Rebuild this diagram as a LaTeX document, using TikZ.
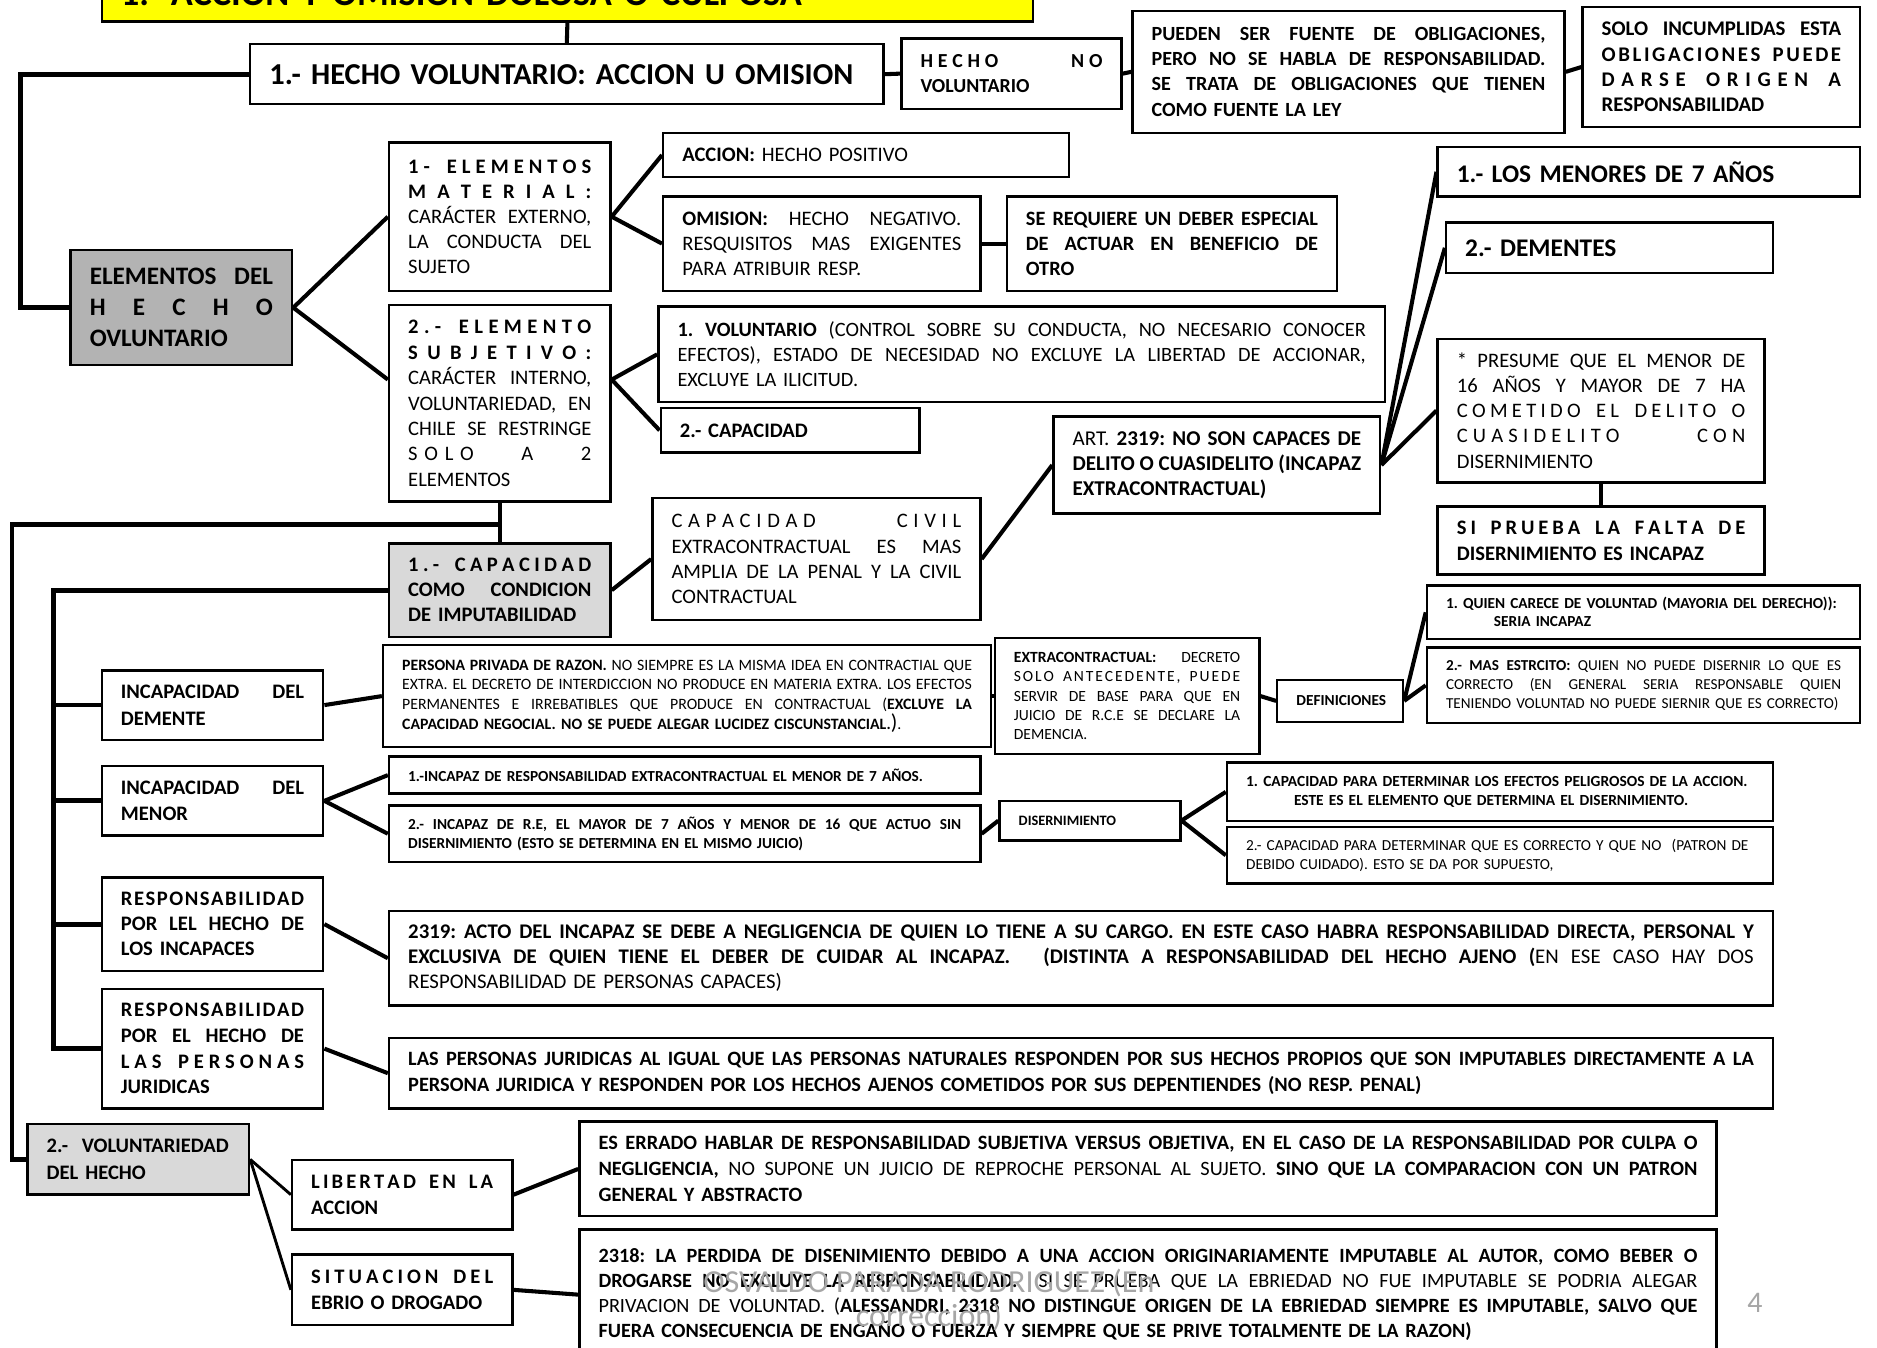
\documentclass[tikz,border=0pt]{standalone}
\usepackage{fontspec}
\setmainfont{Carlito}
\usetikzlibrary{calc}
\frenchspacing

\definecolor{titleyellow}{HTML}{FFFF00}
\definecolor{darkfill}{HTML}{B3B3B3}
\definecolor{lightfill}{HTML}{D9D9D9}
\definecolor{markgray}{HTML}{A6A6A6}

\newcommand\fsz[2]{\fontsize{#1}{#2}\selectfont}
\newcommand\justline[1]{{\spaceskip=0pt\xspaceskip=0pt\makebox[\linewidth][s]{#1}}}
\makeatletter
\newcommand\spreadln[1]{\leavevmode\hbox to\linewidth{\spr@a#1\spr@end}}
\def\spr@end{\spr@end}
\def\spr@a#1{#1\spr@b}
\def\spr@b#1{\ifx\spr@end#1\else\hfil#1\expandafter\spr@b\fi}
\makeatother

\begin{document}
\begin{tikzpicture}[x=0.5pt, y=-0.5pt,
  cell/.style n args={4}{draw, line width=1pt, anchor=north west, at={(#1,#2)},
    minimum width={(#3-(#1))*0.5pt}, minimum height={(#4-(#2))*0.5pt},
    text width={(#3-(#1)-32)*0.5pt}, inner xsep=8pt, inner ysep=0pt, align=left},
  link/.style={line width=1.7pt},
  thinlink/.style={line width=1.2pt},
  spine/.style={line width=2pt}]
\useasboundingbox (0,0) rectangle (1568,1126);
\clip (0,0) rectangle (1568,1126);

% top row
\node[cell={84}{-29}{862}{17}, fill=titleyellow, font=\bfseries\fsz{15.2}{18}] (title) {1.- ACCION Y OMISION DOLOSA O CULPOSA};
\node[cell={208}{36}{737}{86}, font=\bfseries\fsz{12.7}{14}] (hv) {1.- HECHO VOLUNTARIO: ACCION U OMISION};
\node[cell={752}{31}{936}{90}, font=\bfseries\fsz{8.3}{10.5}] (hnv) {\spreadln{HECHO~~~~~~NO}\\VOLUNTARIO};
\node[cell={945}{8}{1306}{110}, font=\bfseries\fsz{8.4}{10.5}] (pueden) {\justline{PUEDEN SER FUENTE DE OBLIGACIONES,}\\\justline{PERO NO SE HABLA DE RESPONSABILIDAD.}\\\justline{SE TRATA DE OBLIGACIONES QUE TIENEN}\\COMO FUENTE LA LEY};
\node[cell={1321}{5}{1553}{105}, font=\bfseries\fsz{8.7}{10.6}] (solo) {\justline{SOLO INCUMPLIDAS ESTA}\\\spreadln{OBLIGACIONES~PUEDE}\\\spreadln{DARSE~ORIGEN~A}\\RESPONSABILIDAD};

% elementos del hecho
\node[cell={58}{208}{243}{304}, fill=darkfill, font=\bfseries\fsz{10.5}{13}] (elem) {\justline{ELEMENTOS DEL}\\\spreadln{HECHO}\\OVLUNTARIO};
\node[cell={324}{118}{509}{242}, font=\fsz{8.6}{10.5}] (mat) {\textbf{\spreadln{1-~ELEMENTOS}}\\\textbf{\spreadln{MATERIAL:}}\\\justline{CARÁCTER EXTERNO,}\\\justline{LA CONDUCTA DEL}\\SUJETO};
\node[cell={324}{254}{509}{418}, font=\fsz{8.6}{10.6}] (subj) {\textbf{\spreadln{2.-~ELEMENTO}}\\\textbf{\spreadln{SUBJETIVO:}}\\\justline{CARÁCTER INTERNO,}\\\justline{VOLUNTARIEDAD, EN}\\\justline{CHILE SE RESTRINGE}\\\spreadln{SOLO~~~A~~~2}\\ELEMENTOS};
\node[cell={553}{110}{892}{147}, font=\fsz{8.6}{10.5}] (accion) {\textbf{ACCION:} HECHO POSITIVO};
\node[cell={553}{163}{818}{242}, font=\fsz{8.6}{10.5}] (omision) {\justline{\textbf{OMISION:} HECHO NEGATIVO.}\\\justline{RESQUISITOS MAS EXIGENTES}\\PARA ATRIBUIR RESP.};
\node[cell={840}{163}{1116}{242}, font=\bfseries\fsz{8.5}{10.5}] (deber) {\justline{SE REQUIERE UN DEBER ESPECIAL}\\\justline{DE ACTUAR EN BENEFICIO DE}\\OTRO};
\node[cell={549}{255}{1156}{335}, font=\fsz{8.5}{10.5}] (volunt) {\justline{\textbf{1. VOLUNTARIO} (CONTROL SOBRE SU CONDUCTA, NO NECESARIO CONOCER}\\\justline{EFECTOS), ESTADO DE NECESIDAD NO EXCLUYE LA LIBERTAD DE ACCIONAR,}\\EXCLUYE LA ILICITUD.};
\node[cell={551}{340}{767}{377}, font=\bfseries\fsz{8.6}{10.5}] (capac) {2.- CAPACIDAD};

% capacidad
\node[cell={879}{347}{1152}{428}, font=\fsz{8.8}{10.5}] (art) {\justline{ART. \textbf{2319: NO SON CAPACES DE}}\\\justline{\textbf{DELITO O CUASIDELITO (INCAPAZ}}\\\textbf{EXTRACONTRACTUAL)}};
\node[cell={1200}{122}{1553}{163}, font=\bfseries\fsz{10.6}{13}] (menores) {1.- LOS MENORES DE 7 AÑOS};
\node[cell={1207}{185}{1480}{227}, font=\bfseries\fsz{10.6}{13}] (dementes) {2.- DEMENTES};
\node[cell={1200}{282}{1473}{402}, font=\fsz{8.6}{10.5}] (presume) {\justline{* PRESUME QUE EL MENOR DE}\\\justline{16 AÑOS Y MAYOR DE 7 HA}\\\spreadln{COMETIDO~EL~DELITO~O}\\\spreadln{CUASIDELITO~~~~~~CON}\\DISERNIMIENTO};
\node[cell={1200}{422}{1473}{479}, font=\bfseries\fsz{8.6}{11}] (siprueba) {\spreadln{SI~PRUEBA~LA~FALTA~DE}\\DISERNIMIENTO ES INCAPAZ};
\node[cell={544}{415}{818}{517}, font=\fsz{8.6}{10.5}] (civil) {\spreadln{CAPACIDAD~~~~~~CIVIL}\\\justline{EXTRACONTRACTUAL ES MAS}\\\justline{AMPLIA DE LA PENAL Y LA CIVIL}\\CONTRACTUAL};
\node[cell={324}{453}{509}{531}, fill=lightfill, font=\bfseries\fsz{8.6}{10.5}] (imput) {\spreadln{1.-~CAPACIDAD}\\\justline{COMO CONDICION}\\DE IMPUTABILIDAD};
\node[cell={22}{938}{207}{997}, fill=lightfill, font=\bfseries\fsz{8.6}{11}] (volhecho) {2.-\ \ VOLUNTARIEDAD\\DEL HECHO};

% incapacidades
\node[cell={84}{559}{269}{617}, font=\bfseries\fsz{8.6}{11}] (dem) {\justline{INCAPACIDAD DEL}\\DEMENTE};
\node[cell={84}{639}{269}{697}, font=\bfseries\fsz{8.6}{11}] (menor) {\justline{INCAPACIDAD DEL}\\MENOR};
\node[cell={84}{732}{269}{810}, font=\bfseries\fsz{8.6}{10.5}] (incap) {\spreadln{RESPONSABILIDAD}\\\justline{POR LEL HECHO DE}\\LOS INCAPACES};
\node[cell={84}{825}{269}{925}, font=\bfseries\fsz{8.6}{10.7}] (jur) {\spreadln{RESPONSABILIDAD}\\\justline{POR EL HECHO DE}\\\spreadln{LAS~PERSONAS}\\JURIDICAS};
\node[cell={319}{538}{827}{623}, font=\fsz{6.6}{8.2}] (privada) {\justline{\textbf{PERSONA PRIVADA DE RAZON.} NO SIEMPRE ES LA MISMA IDEA EN CONTRACTIAL QUE}\\\justline{EXTRA. EL DECRETO DE INTERDICCION NO PRODUCE EN MATERIA EXTRA. LOS EFECTOS}\\\justline{PERMANENTES E IRREBATIBLES QUE PRODUCE EN CONTRACTUAL (\textbf{EXCLUYE LA}}\\\textbf{CAPACIDAD NEGOCIAL. NO SE PUEDE ALEGAR LUCIDEZ CISCUNSTANCIAL.}{\fsz{9}{8.2})}.};
\node[cell={830}{532}{1051}{629}, font=\fsz{6.5}{8}] (extra) {\justline{\textbf{EXTRACONTRACTUAL:} DECRETO}\\\spreadln{SOLO~ANTECEDENTE,~PUEDE}\\\justline{SERVIR DE BASE PARA QUE EN}\\\justline{JUICIO DE R.C.E SE DECLARE LA}\\DEMENCIA.};
\node[cell={1066}{567}{1171}{602}, font=\bfseries\fsz{6.4}{8}] (defin) {DEFINICIONES};
\node[cell={1191}{488}{1553}{533}, font=\bfseries\fsz{6.4}{7.5}] (quien) {1. QUIEN CARECE DE VOLUNTAD (MAYORIA DEL DERECHO)):\\\hspace*{20pt}SERIA INCAPAZ};
\node[cell={1191}{540}{1553}{603}, font=\fsz{6.35}{8}] (estricto) {\justline{\textbf{2.- MAS ESTRCITO:} QUIEN NO PUEDE DISERNIR LO QUE ES}\\\justline{CORRECTO (EN GENERAL SERIA RESPONSABLE QUIEN}\\TENIENDO VOLUNTAD NO PUEDE SIERNIR QUE ES CORRECTO)};
\node[cell={324}{631}{818}{662}, font=\bfseries\fsz{6.4}{8}] (menor7) {1.-INCAPAZ DE RESPONSABILIDAD EXTRACONTRACTUAL EL MENOR DE 7 AÑOS.};
\node[cell={324}{672}{818}{719}, font=\bfseries\fsz{6.4}{8}] (mayor7) {\justline{2.- INCAPAZ DE R.E, EL MAYOR DE 7 AÑOS Y MENOR DE 16 QUE ACTUO SIN}\\DISERNIMIENTO (ESTO SE DETERMINA EN EL MISMO JUICIO)};
\node[cell={834}{668}{985}{701}, font=\bfseries\fsz{6}{8}] (disern) {DISERNIMIENTO};
\node[cell={1024}{636}{1480}{685}, font=\bfseries\fsz{6.45}{8}] (peligro) {1. CAPACIDAD PARA DETERMINAR LOS EFECTOS PELIGROSOS DE LA ACCION.\\\hspace*{20pt}ESTE ES EL ELEMENTO QUE DETERMINA EL DISERNIMIENTO.};
\node[cell={1024}{690}{1480}{737}, font=\fsz{6.4}{8}] (correcto) {2.- CAPACIDAD PARA DETERMINAR QUE ES CORRECTO Y QUE NO\ \ (PATRON DE\\DEBIDO CUIDADO). ESTO SE DA POR SUPUESTO,};
\node[cell={324}{760}{1480}{839}, font=\bfseries\fsz{8.7}{10.5}] (actoinc) {\justline{2319: ACTO DEL INCAPAZ SE DEBE A NEGLIGENCIA DE QUIEN LO TIENE A SU CARGO. EN ESTE CASO HABRA RESPONSABILIDAD DIRECTA, PERSONAL Y}\\\justline{EXCLUSIVA DE QUIEN TIENE EL DEBER DE CUIDAR AL INCAPAZ.\quad\ (DISTINTA A RESPONSABILIDAD DEL HECHO AJENO (\mdseries EN ESE CASO HAY DOS}\\\mdseries RESPONSABILIDAD DE PERSONAS CAPACES)};
\node[cell={324}{866}{1480}{925}, font=\bfseries\fsz{8.5}{11}] (pjur) {\justline{LAS PERSONAS JURIDICAS AL IGUAL QUE LAS PERSONAS NATURALES RESPONDEN POR SUS HECHOS PROPIOS QUE SON IMPUTABLES DIRECTAMENTE A LA}\\PERSONA JURIDICA Y RESPONDEN POR LOS HECHOS AJENOS COMETIDOS POR SUS DEPENTIENDES (NO RESP. PENAL)};

% voluntariedad
\node[cell={243}{968}{427}{1026}, font=\bfseries\fsz{8.6}{11}] (libertad) {\spreadln{LIBERTAD~EN~LA}\\ACCION};
\node[cell={243}{1047}{427}{1106}, font=\bfseries\fsz{8.6}{11}] (ebrio) {\spreadln{SITUACION~DEL}\\EBRIO O DROGADO};
\node[cell={483}{936}{1433}{1015}, font=\fsz{8.5}{10.7}] (errado) {\justline{\textbf{ES ERRADO HABLAR DE RESPONSABILIDAD SUBJETIVA VERSUS OBJETIVA, EN EL CASO DE LA RESPONSABILIDAD POR CULPA O}}\\\justline{\textbf{NEGLIGENCIA,} NO SUPONE UN JUICIO DE REPROCHE PERSONAL AL SUJETO. \textbf{SINO QUE LA COMPARACION CON UN PATRON}}\\\textbf{GENERAL Y ABSTRACTO}};
\node[cell={483}{1026}{1433}{1135}, font=\fsz{8.45}{10.5}] (ebriedad) {\justline{\textbf{2318: LA PERDIDA DE DISENIMIENTO DEBIDO A UNA ACCION ORIGINARIAMENTE IMPUTABLE AL AUTOR, COMO BEBER O}}\\\justline{\textbf{DROGARSE NO EXCLUYE LA RESPONSABILIDAD.}\ \ SI SE PRUEBA QUE LA EBRIEDAD NO FUE IMPUTABLE SE PODRIA ALEGAR}\\\justline{PRIVACION DE VOLUNTAD. (\textbf{ALESSANDRI, 2318 NO DISTINGUE ORIGEN DE LA EBRIEDAD SIEMPRE ES IMPUTABLE, SALVO QUE}}\\\textbf{FUERA CONSECUENCIA DE ENGAÑO O FUERZA Y SIEMPRE QUE SE PRIVE TOTALMENTE DE LA RAZON)}};

% connectors
\draw[link] (title.south) -- (hv.north);
\draw[spine] (hv.west) -- ++(-191,0) |- (elem.west);
\draw[link] (hv.east) -- (hnv.west);
\draw[link] (hnv.east) -- (pueden.west);
\draw[link] (pueden.east) -- (solo.west);
\draw[link] (elem.east) -- (mat.west);
\draw[link] (elem.east) -- ($(subj.north west)!.38!(subj.south west)$);
\draw[link] (mat.east) -- (accion.west);
\draw[link] (mat.east) -- (omision.west);
\draw[link] (omision.east) -- (deber.west);
\coordinate (subjout) at ($(subj.north east)!.38!(subj.south east)$);
\draw[link] (subjout) -- (volunt.west);
\draw[link] (subjout) -- (capac.west);
\foreach \n in {menores,dementes,presume}
  \draw[link] (art.east) -- (\n.west);
\draw[link] (presume.south) -- (siprueba.north);
\draw[link] (civil.east) -- (art.west);
\draw[link] (imput.east) -- (civil.west);
\draw[link] (subj.south) -- (imput.north);
\coordinate (split) at ($(subj.south)!.54!(imput.north)$);
\draw[spine] (split) -- ($(split -| volhecho.west)+(-12,0)$) |- (volhecho.west);
\coordinate (trunk) at ($(imput.west -| dem.west)+(-39,0)$);
\draw[spine] (imput.west) -- (trunk) |- (jur.west);
\foreach \n in {dem,menor,incap}
  \draw[spine] (trunk |- \n.west) -- (\n.west);
\draw[link] (dem.east) -- (privada.west);
\draw[link] (privada.east) -- (extra.west);
\draw[link] (extra.east) -- (defin.west);
\foreach \n in {quien,estricto}
  \draw[link] (defin.east) -- (\n.west);
\foreach \n in {menor7,mayor7}
  \draw[link] (menor.east) -- (\n.west);
\draw[link] (mayor7.east) -- (disern.west);
\foreach \n in {peligro,correcto}
  \draw[link] (disern.east) -- (\n.west);
\draw[link] (incap.east) -- (actoinc.west);
\draw[link] (jur.east) -- (pjur.west);
\foreach \n in {libertad,ebrio}
  \draw[thinlink] (volhecho.east) -- (\n.west);
\draw[link] (libertad.east) -- (errado.west);
\draw[link] (ebrio.east) -- (ebriedad.west);

% footer
\node[text=markgray, font=\fsz{13.4}{14}, align=center] (mark) at (776,1086) {OSVALDO PARADA RODRIGUEZ (En\\corrección)};
\node[text=markgray, font=\fsz{12.5}{14}] (pagenum) at (1466,1088) {4};
\end{tikzpicture}
\end{document}
